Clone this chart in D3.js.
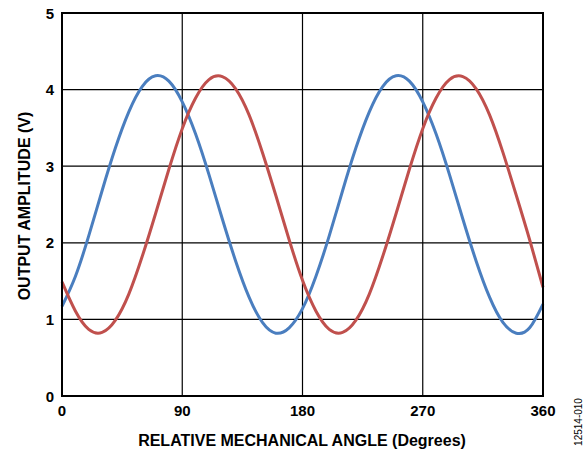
<!DOCTYPE html>
<html>
<head>
<meta charset="utf-8">
<script src="https://cdn.jsdelivr.net/npm/d3@7"></script>
<style>
  body { margin: 0; background: #fff; }
  svg { font-family: "Liberation Sans", Arial, sans-serif; }
</style>
</head>
<body>
<svg id="chart"></svg>
<script>
// Size of chart svg
var width = 585;
var height = 451;

// angle samples (degrees) and the two read-off traces (V)
var angles = [0, 10, 20, 30, 40, 50, 60, 70, 80, 90, 100, 110, 120, 130, 140, 150, 160, 170, 180,
              190, 200, 210, 220, 230, 240, 250, 260, 270, 280, 290, 300, 310, 320, 330, 340, 350, 360];
var blue_vals = [1.17, 1.56, 2.09, 2.68, 3.24, 3.71, 4.04, 4.18, 4.11, 3.84, 3.42, 2.89, 2.31, 1.76, 1.29, 0.96, 0.82, 0.89, 1.14,
                 1.56, 2.09, 2.68, 3.24, 3.71, 4.04, 4.18, 4.11, 3.84, 3.42, 2.89, 2.31, 1.76, 1.29, 0.96, 0.82, 0.89, 1.20];
var red_vals = [1.49, 1.11, 0.87, 0.83, 0.99, 1.33, 1.82, 2.38, 2.96, 3.49, 3.89, 4.13, 4.17, 4.01, 3.67, 3.18, 2.62, 2.04, 1.51,
                1.11, 0.87, 0.83, 0.99, 1.33, 1.82, 2.38, 2.96, 3.49, 3.89, 4.13, 4.17, 4.01, 3.67, 3.18, 2.62, 2.04, 1.42];
var x_ticks = [0, 90, 180, 270, 360];
var y_ticks = [0, 1, 2, 3, 4, 5];

var margin = {left: 62, right: 42, top: 13, bottom: 55};

var svg = d3.select('#chart')
    .attr("width", width)
    .attr("height", height);

var x = d3.scaleLinear().domain([0, 360]).range([margin.left, width - margin.right]);
var y = d3.scaleLinear().domain([0, 5]).range([height - margin.bottom, margin.top]);

// grid
svg.append("g")
    .selectAll("line.v")
    .data(x_ticks.slice(1, -1))
    .join("line")
    .attr("x1", d => x(d)).attr("x2", d => x(d))
    .attr("y1", y(5)).attr("y2", y(0))
    .attr("stroke", "#000").attr("stroke-width", 1.2);
svg.append("g")
    .selectAll("line.h")
    .data(y_ticks.slice(1, -1))
    .join("line")
    .attr("x1", x(0)).attr("x2", x(360))
    .attr("y1", d => y(d)).attr("y2", d => y(d))
    .attr("stroke", "#000").attr("stroke-width", 1.2);

// traces
var line = d3.line()
    .x((d, i) => x(angles[i]))
    .y(d => y(d))
    .curve(d3.curveNatural);

svg.append("path")
    .attr("d", line(blue_vals))
    .attr("fill", "none")
    .attr("stroke", "#4A7EBF")
    .attr("stroke-width", 3);
svg.append("path")
    .attr("d", line(red_vals))
    .attr("fill", "none")
    .attr("stroke", "#C0504D")
    .attr("stroke-width", 3);

// frame
svg.append("rect")
    .attr("x", x(0)).attr("y", y(5))
    .attr("width", x(360) - x(0)).attr("height", y(0) - y(5))
    .attr("fill", "none").attr("stroke", "#000").attr("stroke-width", 2);

// tick labels
svg.append("g")
    .selectAll("text")
    .data(x_ticks)
    .join("text")
    .attr("x", d => x(d))
    .attr("y", y(0) + 20)
    .attr("text-anchor", "middle")
    .attr("font-size", 15).attr("font-weight", "bold")
    .text(d => d);
svg.append("g")
    .selectAll("text")
    .data(y_ticks)
    .join("text")
    .attr("x", x(0) - 8)
    .attr("y", d => y(d) + 5.5)
    .attr("text-anchor", "end")
    .attr("font-size", 15).attr("font-weight", "bold")
    .text(d => d);

// axis titles
svg.append("text")
    .attr("x", 302)
    .attr("y", 446)
    .attr("text-anchor", "middle")
    .attr("font-size", 16).attr("font-weight", "bold")
    .text("RELATIVE MECHANICAL ANGLE (Degrees)");
svg.append("text")
    .attr("transform", "translate(30,206) rotate(-90)")
    .attr("text-anchor", "middle")
    .attr("font-size", 16).attr("font-weight", "bold")
    .text("OUTPUT AMPLITUDE (V)");

// figure id
svg.append("text")
    .attr("transform", "translate(582,422) rotate(-90)")
    .attr("text-anchor", "middle")
    .attr("font-size", 10)
    .text("12514-010");
</script>
</body>
</html>
